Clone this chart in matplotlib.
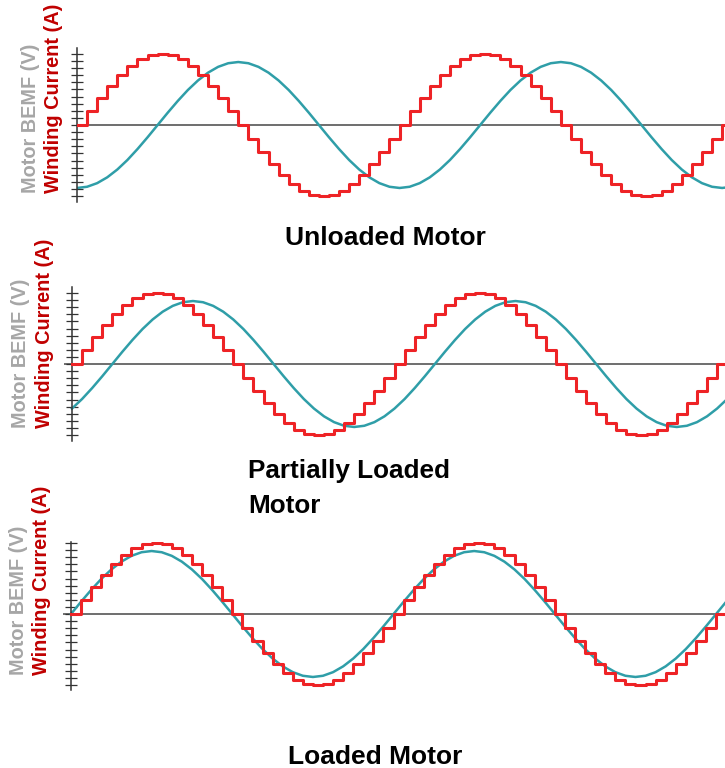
import numpy as np
import matplotlib
matplotlib.use("Agg")
import matplotlib.pyplot as plt

plt.rcParams['font.family'] = ['Liberation Sans', 'DejaVu Sans']

# winding current, one value per microstep (same drive in all three panels)
current = [0, 0.195, 0.383, 0.556, 0.707, 0.831, 0.924, 0.981, 1.0, 0.981, 0.924, 0.831, 0.707, 0.556, 0.383, 0.195,
           0, -0.195, -0.383, -0.556, -0.707, -0.831, -0.924, -0.981, -1.0, -0.981, -0.924, -0.831, -0.707, -0.556, -0.383, -0.195,
           0, 0.195, 0.383, 0.556, 0.707, 0.831, 0.924, 0.981, 1.0, 0.981, 0.924, 0.831, 0.707, 0.556, 0.383, 0.195,
           0, -0.195, -0.383, -0.556, -0.707, -0.831, -0.924, -0.981, -1.0, -0.981, -0.924, -0.831, -0.707, -0.556, -0.383, -0.195,
           0, 0.195]

# motor back-EMF sampled at the same microsteps
bemf_unloaded = [-0.887, -0.870, -0.819, -0.737, -0.627, -0.493, -0.339, -0.173, 0, 0.173, 0.339, 0.493, 0.627, 0.737, 0.819, 0.870,
                 0.887, 0.870, 0.819, 0.737, 0.627, 0.493, 0.339, 0.173, 0, -0.173, -0.339, -0.493, -0.627, -0.737, -0.819, -0.870,
                 -0.887, -0.870, -0.819, -0.737, -0.627, -0.493, -0.339, -0.173, 0, 0.173, 0.339, 0.493, 0.627, 0.737, 0.819, 0.870,
                 0.887, 0.870, 0.819, 0.737, 0.627, 0.493, 0.339, 0.173, 0, -0.173, -0.339, -0.493, -0.627, -0.737, -0.819, -0.870,
                 -0.887, -0.870]
bemf_partial = [-0.627, -0.493, -0.339, -0.173, 0, 0.173, 0.339, 0.493, 0.627, 0.737, 0.819, 0.870, 0.887, 0.870, 0.819, 0.737,
                0.627, 0.493, 0.339, 0.173, 0, -0.173, -0.339, -0.493, -0.627, -0.737, -0.819, -0.870, -0.887, -0.870, -0.819, -0.737,
                -0.627, -0.493, -0.339, -0.173, 0, 0.173, 0.339, 0.493, 0.627, 0.737, 0.819, 0.870, 0.887, 0.870, 0.819, 0.737,
                0.627, 0.493, 0.339, 0.173, 0, -0.173, -0.339, -0.493, -0.627, -0.737, -0.819, -0.870, -0.887, -0.870, -0.819, -0.737,
                -0.627, -0.493]
bemf_loaded = [0, 0.173, 0.339, 0.493, 0.627, 0.737, 0.819, 0.870, 0.887, 0.870, 0.819, 0.737, 0.627, 0.493, 0.339, 0.173,
               0, -0.173, -0.339, -0.493, -0.627, -0.737, -0.819, -0.870, -0.887, -0.870, -0.819, -0.737, -0.627, -0.493, -0.339, -0.173,
               0, 0.173, 0.339, 0.493, 0.627, 0.737, 0.819, 0.870, 0.887, 0.870, 0.819, 0.737, 0.627, 0.493, 0.339, 0.173,
               0, -0.173, -0.339, -0.493, -0.627, -0.737, -0.819, -0.870, -0.887, -0.870, -0.819, -0.737, -0.627, -0.493, -0.339, -0.173,
               0, 0.173]

titles = ["Unloaded Motor", "Partially Loaded\nMotor", "Loaded Motor"]
bemf_list = [bemf_unloaded, bemf_partial, bemf_loaded]

W, H = 725, 768
RED = '#ee2326'
TEAL = '#2f9ea8'
STEP_PX = 10.08
PX_PER_UNIT = 71.0

# panel layout in pixels: x of step 0, x where the baseline starts, y of zero line, extent above/below
panels = [
    dict(x0=77, xstart=77, yzero=125, up=77, down=77),
    dict(x0=72, xstart=64, yzero=364, up=77, down=77),
    dict(x0=71, xstart=63, yzero=614, up=72, down=76),
]

fig = plt.figure(figsize=(W / 100, H / 100), dpi=100)

for p, bemf in zip(panels, bemf_list):
    top = p['yzero'] - p['up']
    bot = p['yzero'] + p['down']
    ax = fig.add_axes([p['xstart'] / W, 1 - bot / H, (W - p['xstart']) / W, (bot - top) / H])
    ax.set_xlim((p['xstart'] - p['x0']) / STEP_PX, (W - p['x0']) / STEP_PX)
    ax.set_ylim(-p['down'] / PX_PER_UNIT, p['up'] / PX_PER_UNIT)
    ax.patch.set_alpha(0)

    k = np.arange(len(current))
    ax.axhline(0, color='#555555', lw=1.2, zorder=1)
    ax.plot(k, bemf, color=TEAL, lw=1.8, zorder=2)
    ax.step(k, current, where='post', color=RED, lw=2.2, zorder=3)

    for s in ['top', 'right', 'bottom']:
        ax.spines[s].set_visible(False)
    ax.spines['left'].set_position(('data', 0))
    ax.spines['left'].set_color('#333333')
    ax.spines['left'].set_linewidth(1.1)
    ax.set_xticks([])
    ax.set_yticks(np.arange(-10, 11) / 10)
    ax.set_yticklabels([])
    ax.tick_params(axis='y', direction='inout', length=8, width=0.9, color='#333333')

# rotated axis labels
label_pos = [(31, 54, 193), (21, 45, 428), (19, 42, 675)]
for gx, rx, yb in label_pos:
    fig.text(gx / W, 1 - yb / H, "Motor BEMF (V)", rotation=90, ha='center', va='bottom',
             fontsize=14.3, fontweight='bold', color='#a6a6a6')
    fig.text(rx / W, 1 - yb / H, "Winding Current (A)", rotation=90, ha='center', va='bottom',
             fontsize=14.3, fontweight='bold', color='#c00000')

# panel captions
fig.text(385 / W, 1 - 245 / H, titles[0], ha='center', va='baseline', fontsize=19, fontweight='bold')
for line, yb in zip(titles[1].split('\n'), [478, 513]):
    fig.text(248 / W, 1 - yb / H, line, ha='left', va='baseline', fontsize=18.8, fontweight='bold')
fig.text(375 / W, 1 - 764 / H, titles[2], ha='center', va='baseline', fontsize=19, fontweight='bold')

fig.savefig('out.png', dpi=100)
